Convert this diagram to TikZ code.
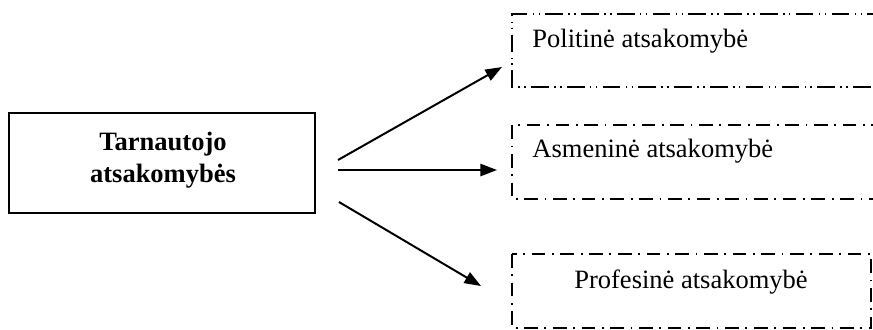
\documentclass[tikz,border=0pt]{standalone}
\usepackage{fontspec}
\setmainfont{Liberation Serif}
\usetikzlibrary{arrows.meta}
\begin{document}
\begin{tikzpicture}[x=0.4528pt, y=-0.4528pt,
  font=\fontsize{12}{14.4}\selectfont,
  mainbox/.style={draw, line width=0.85pt, inner sep=0pt,
    minimum width=138.6pt, minimum height=45.3pt},
  dashdotdot/.style={draw, line width=0.5pt,
    dash pattern=on 8pt off 2.4pt on 0.7pt off 2pt on 0.7pt off 2.4pt},
  dashdot/.style={draw, line width=0.5pt,
    dash pattern=on 6.2pt off 3pt on 0.8pt off 3pt},
  link/.style={line width=0.9pt, -{Triangle[length=7.5pt, width=5.5pt]}},
  label/.style={inner sep=0pt},
  boldlabel/.style={label, anchor=base, font=\fontsize{12}{14.4}\selectfont\bfseries}]
\useasboundingbox (0,0) rectangle (873,329);
\clip (0,0) rectangle (873,329);

% source box with its two-line title
\node[mainbox] (src) at (162,163) {};
\node[boldlabel] (srcA) at (163,150) {Tarnautojo};
\node[boldlabel] (srcB) at (163,182) {atsakomybės};

% target boxes (the upper two run on past the right edge)
\draw[dashdotdot] (885,14) -- (512,14) -- (512,87) -- (885,87);
\draw[dashdot] (885,125) -- (512,125) -- (512,199) -- (885,199);
\draw[dashdot] (512,254) rectangle (871,328);

\node[label, anchor=base west] (pol) at (532,47) {Politinė atsakomybė};
\node[label, anchor=base west] (asm) at (532,157) {Asmeninė atsakomybė};
\node[label, anchor=base] (prof) at (691,288) {Profesinė atsakomybė};

% connectors
\coordinate (s1) at (338,160);
\coordinate (s2) at (338,170);
\coordinate (s3) at (339,202);
\coordinate (e1) at (502,67);
\coordinate (e2) at (497,170);
\coordinate (e3) at (481,286);
\draw[link] (s1) -- (e1);
\draw[link] (s2) -- (e2);
\draw[link] (s3) -- (e3);
\end{tikzpicture}
\end{document}
